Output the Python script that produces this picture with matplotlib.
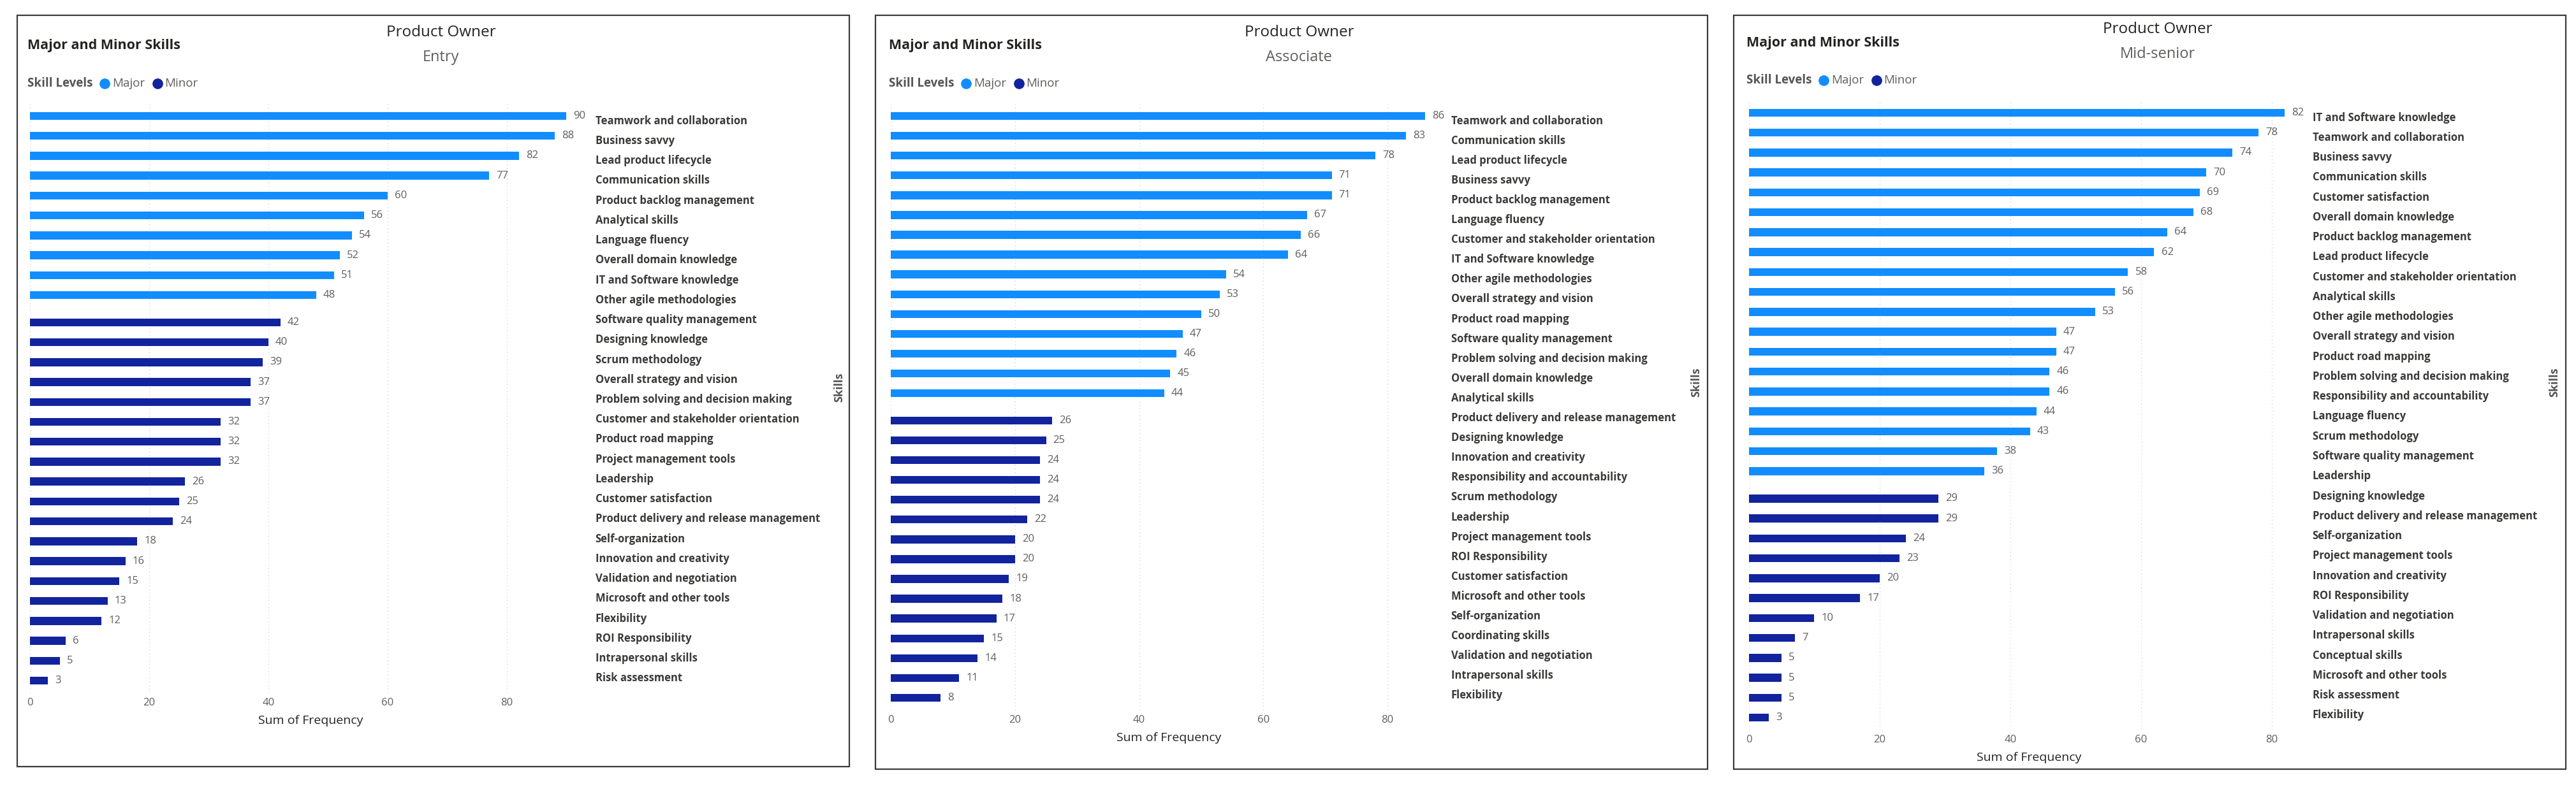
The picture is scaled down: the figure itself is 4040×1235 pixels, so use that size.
import numpy as np
import matplotlib.pyplot as plt
from matplotlib.lines import Line2D
from matplotlib.patches import Rectangle

plt.rcParams['font.family'] = ['Open Sans', 'DejaVu Sans']

W, H, DPI = 4041, 1235, 100
MAJOR_COLOR = '#118DFF'
MINOR_COLOR = '#12239E'
DARK = '#252423'
GRAY = '#605E5C'

# ---- Entry ----
entry_major_skills = ['Teamwork and collaboration', 'Business savvy', 'Lead product lifecycle',
                      'Communication skills', 'Product backlog management', 'Analytical skills',
                      'Language fluency', 'Overall domain knowledge', 'IT and Software knowledge',
                      'Other agile methodologies']
entry_major_freq = [90, 88, 82, 77, 60, 56, 54, 52, 51, 48]
entry_minor_skills = ['Software quality management', 'Designing knowledge', 'Scrum methodology',
                      'Overall strategy and vision', 'Problem solving and decision making',
                      'Customer and stakeholder orientation', 'Product road mapping',
                      'Project management tools', 'Leadership', 'Customer satisfaction',
                      'Product delivery and release management', 'Self-organization',
                      'Innovation and creativity', 'Validation and negotiation',
                      'Microsoft and other tools', 'Flexibility', 'ROI Responsibility',
                      'Intrapersonal skills', 'Risk assessment']
entry_minor_freq = [42, 40, 39, 37, 37, 32, 32, 32, 26, 25, 24, 18, 16, 15, 13, 12, 6, 5, 3]

# ---- Associate ----
assoc_major_skills = ['Teamwork and collaboration', 'Communication skills', 'Lead product lifecycle',
                      'Business savvy', 'Product backlog management', 'Language fluency',
                      'Customer and stakeholder orientation', 'IT and Software knowledge',
                      'Other agile methodologies', 'Overall strategy and vision',
                      'Product road mapping', 'Software quality management',
                      'Problem solving and decision making', 'Overall domain knowledge',
                      'Analytical skills']
assoc_major_freq = [86, 83, 78, 71, 71, 67, 66, 64, 54, 53, 50, 47, 46, 45, 44]
assoc_minor_skills = ['Product delivery and release management', 'Designing knowledge',
                      'Innovation and creativity', 'Responsibility and accountability',
                      'Scrum methodology', 'Leadership', 'Project management tools',
                      'ROI Responsibility', 'Customer satisfaction', 'Microsoft and other tools',
                      'Self-organization', 'Coordinating skills', 'Validation and negotiation',
                      'Intrapersonal skills', 'Flexibility']
assoc_minor_freq = [26, 25, 24, 24, 24, 22, 20, 20, 19, 18, 17, 15, 14, 11, 8]

# ---- Mid-senior ----
mid_major_skills = ['IT and Software knowledge', 'Teamwork and collaboration', 'Business savvy',
                    'Communication skills', 'Customer satisfaction', 'Overall domain knowledge',
                    'Product backlog management', 'Lead product lifecycle',
                    'Customer and stakeholder orientation', 'Analytical skills',
                    'Other agile methodologies', 'Overall strategy and vision',
                    'Product road mapping', 'Problem solving and decision making',
                    'Responsibility and accountability', 'Language fluency', 'Scrum methodology',
                    'Software quality management', 'Leadership']
mid_major_freq = [82, 78, 74, 70, 69, 68, 64, 62, 58, 56, 53, 47, 47, 46, 46, 44, 43, 38, 36]
mid_minor_skills = ['Designing knowledge', 'Product delivery and release management',
                    'Self-organization', 'Project management tools', 'Innovation and creativity',
                    'ROI Responsibility', 'Validation and negotiation', 'Intrapersonal skills',
                    'Conceptual skills', 'Microsoft and other tools', 'Risk assessment',
                    'Flexibility']
mid_minor_freq = [29, 29, 24, 23, 20, 17, 10, 7, 5, 5, 5, 3]

# layout in reference pixels: border, zero x, px per unit, label x, first/last bar y, title x
panels = [
    dict(sub='Entry', major=(entry_major_skills, entry_major_freq),
         minor=(entry_minor_skills, entry_minor_freq),
         border=(27, 24, 1332, 1203), x0=47, ppu=9.35, lx=934, y0=182, y1=1068, tx=43,
         sk=(1316, 608)),
    dict(sub='Associate', major=(assoc_major_skills, assoc_major_freq),
         minor=(assoc_minor_skills, assoc_minor_freq),
         border=(1373, 24, 2678, 1207), x0=1397, ppu=9.74, lx=2276, y0=182, y1=1095, tx=1394,
         sk=(2660, 600)),
    dict(sub='Mid-senior', major=(mid_major_skills, mid_major_freq),
         minor=(mid_minor_skills, mid_minor_freq),
         border=(2719, 24, 4024, 1207), x0=2743, ppu=10.25, lx=3627, y0=177, y1=1126, tx=2739,
         sk=(4006, 600)),
]


def fx(p):
    return p / W


def fy(p):
    return 1 - p / H


fig = plt.figure(figsize=(W / DPI, H / DPI), dpi=DPI)
fig.patch.set_facecolor('white')
renderer = fig.canvas.get_renderer()

gap = 0.37
for p in panels:
    bx0, by0, bx1, by1 = p['border']
    fig.add_artist(Rectangle((fx(bx0), fy(by1)), fx(bx1 - bx0), (by1 - by0) / H,
                             transform=fig.transFigure, fill=False, edgecolor='#3a3a3a', lw=1.6))

    maj_lab, maj_val = p['major']
    min_lab, min_val = p['minor']
    nmaj, nmin = len(maj_val), len(min_val)
    pos_maj = np.arange(nmaj)
    pos_min = nmaj + gap + np.arange(nmin)
    last = pos_min[-1]
    sp = (p['y1'] - p['y0']) / last

    right = p['lx'] - 6
    top = p['y0'] - 0.6 * sp
    bottom = p['y1'] + 0.6 * sp
    ax = fig.add_axes([fx(p['x0']), fy(bottom), fx(right - p['x0']), (bottom - top) / H])

    b1 = ax.barh(pos_maj, maj_val, height=0.4, color=MAJOR_COLOR)
    b2 = ax.barh(pos_min, min_val, height=0.4, color=MINOR_COLOR)
    for b in (b1, b2):
        ax.bar_label(b, padding=8, color=GRAY, fontsize=12)

    ax.set_xlim(0, (right - p['x0']) / p['ppu'])
    ax.set_ylim(last + 0.6, -0.6)
    ax.set_xticks([0, 20, 40, 60, 80])
    ax.grid(axis='x', linestyle=(0, (1, 3)), color='#D6D6D6', lw=1)
    ax.set_axisbelow(True)
    for s in ax.spines.values():
        s.set_visible(False)
    ax.tick_params(axis='x', length=0, pad=6, labelsize=12, labelcolor=GRAY)

    # category labels spread evenly over the bar range, on the right side
    ax.yaxis.tick_right()
    ax.set_yticks(np.linspace(0.18, last - 0.18, nmaj + nmin), maj_lab + min_lab)
    ax.tick_params(axis='y', length=0, pad=4, labelsize=12, labelcolor='#3B3A39')
    for t in ax.get_yticklabels():
        t.set_fontweight('bold')
    ax.set_xlabel('Sum of Frequency', fontsize=14, color=DARK, labelpad=8)

    fig.text(fx(p['sk'][0]), fy(p['sk'][1]), 'Skills', rotation=90, fontsize=13,
             fontweight='bold', color='#555555', ha='center', va='center')

    # titles
    cx = (bx0 + bx1) / 2 + 12
    fig.text(fx(cx), fy(p['y0'] - 131), 'Product Owner', fontsize=17.5, color=DARK,
             ha='center', va='center')
    fig.text(fx(cx), fy(p['y0'] - 92), p['sub'], fontsize=17, color=GRAY,
             ha='center', va='center')
    fig.text(fx(p['tx']), fy(p['y0'] - 110), 'Major and Minor Skills', fontsize=15.5,
             fontweight='bold', color=DARK, ha='left', va='center')

    # legend row
    ly = fy(p['y0'] - 51)
    t = fig.text(fx(p['tx']), ly, 'Skill Levels', fontsize=13.5, fontweight='bold',
                 color='#555555', ha='left', va='center')
    xpos = t.get_window_extent(renderer).x1
    for name, col in (('Major', MAJOR_COLOR), ('Minor', MINOR_COLOR)):
        xpos += 19
        fig.add_artist(Line2D([xpos / W], [ly], marker='o', markersize=11, color=col,
                              linestyle='none', transform=fig.transFigure))
        t = fig.text((xpos + 12) / W, ly, name, fontsize=13.5, color=GRAY,
                     ha='left', va='center')
        xpos = t.get_window_extent(renderer).x1

fig.savefig('out.png', dpi=DPI, facecolor='white')
